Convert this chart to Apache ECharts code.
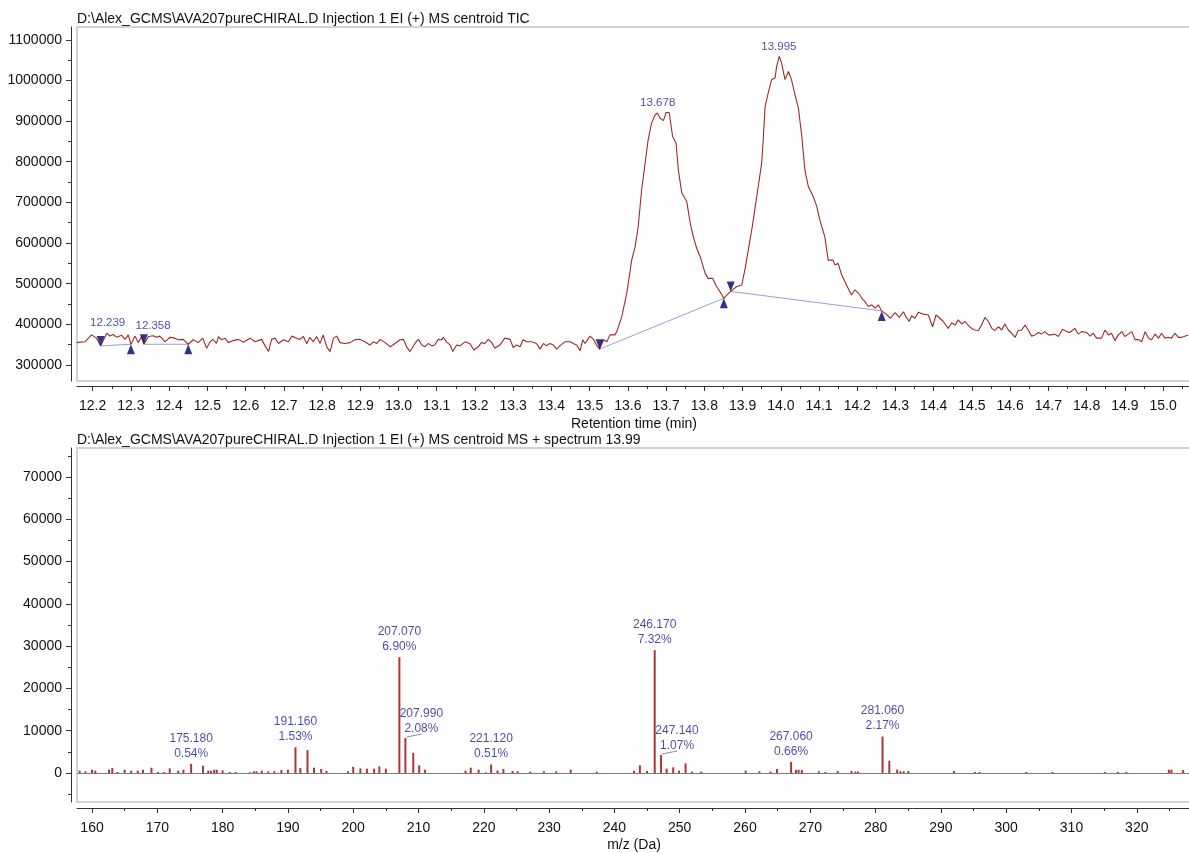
<!DOCTYPE html>
<html>
<head>
<meta charset="utf-8">
<script src="https://cdn.jsdelivr.net/npm/echarts@6/dist/echarts.min.js"></script>
<style>
  html, body { margin: 0; padding: 0; background: #ffffff; overflow: hidden; }
  /* the drawing surface is a little wider than the page so the plot frames run off its right edge */
  #chart { width: 1200px; height: 853px; }
</style>
</head>
<body>
<div id="chart"></div>
<script>
// ---------- titles ----------
const TIC_TITLE = 'D:\\Alex_GCMS\\AVA207pureCHIRAL.D Injection 1 EI (+) MS centroid TIC';
const MS_TITLE = 'D:\\Alex_GCMS\\AVA207pureCHIRAL.D Injection 1 EI (+) MS centroid MS + spectrum 13.99';
const TIC_X_NAME = 'Retention time (min)';
const MS_X_NAME = 'm/z (Da)';

// ---------- total ion chromatogram ----------
const TIC_TIME = [
  12.158, 12.180, 12.197, 12.210, 12.221, 12.237, 12.245, 12.254, 12.263, 12.276,
  12.285, 12.293, 12.300, 12.311, 12.319, 12.328, 12.334, 12.346, 12.359, 12.367,
  12.376, 12.389, 12.402, 12.415, 12.424, 12.437, 12.450, 12.463, 12.476, 12.488,
  12.498, 12.507, 12.514, 12.524, 12.529, 12.537, 12.546, 12.555, 12.568, 12.581,
  12.594, 12.612, 12.625, 12.642, 12.651, 12.660, 12.668, 12.677, 12.686, 12.699,
  12.712, 12.721, 12.734, 12.742, 12.751, 12.760, 12.768, 12.777, 12.786, 12.795,
  12.803, 12.812, 12.821, 12.830, 12.838, 12.847, 12.860, 12.873, 12.886, 12.899,
  12.912, 12.925, 12.934, 12.943, 12.952, 12.965, 12.978, 12.991, 13.004, 13.013,
  13.021, 13.030, 13.043, 13.052, 13.061, 13.069, 13.078, 13.087, 13.095, 13.104,
  13.113, 13.117, 13.126, 13.135, 13.142, 13.152, 13.161, 13.174, 13.187, 13.197,
  13.209, 13.217, 13.226, 13.235, 13.244, 13.252, 13.265, 13.278, 13.292, 13.300,
  13.309, 13.318, 13.326, 13.335, 13.348, 13.361, 13.370, 13.379, 13.387, 13.396,
  13.405, 13.414, 13.422, 13.435, 13.449, 13.457, 13.466, 13.475, 13.482, 13.488,
  13.501, 13.510, 13.518, 13.526, 13.536, 13.545, 13.553, 13.566, 13.571, 13.584,
  13.597, 13.610, 13.619, 13.627, 13.636, 13.645, 13.653, 13.662, 13.671, 13.677,
  13.684, 13.693, 13.700, 13.708, 13.717, 13.726, 13.732, 13.741, 13.754, 13.763,
  13.771, 13.780, 13.789, 13.802, 13.810, 13.822, 13.832, 13.841, 13.851, 13.863,
  13.871, 13.885, 13.898, 13.906, 13.915, 13.924, 13.932, 13.941, 13.950, 13.954,
  13.959, 13.967, 13.976, 13.985, 13.989, 13.996, 14.002, 14.011, 14.020, 14.028,
  14.037, 14.046, 14.055, 14.063, 14.072, 14.085, 14.094, 14.102, 14.115, 14.124,
  14.136, 14.142, 14.150, 14.159, 14.168, 14.176, 14.185, 14.194, 14.203, 14.212,
  14.220, 14.229, 14.238, 14.247, 14.255, 14.264, 14.273, 14.287, 14.299, 14.310,
  14.321, 14.327, 14.336, 14.342, 14.351, 14.360, 14.373, 14.386, 14.397, 14.406,
  14.416, 14.425, 14.438, 14.447, 14.456, 14.464, 14.473, 14.482, 14.490, 14.499,
  14.508, 14.517, 14.525, 14.534, 14.543, 14.552, 14.560, 14.569, 14.578, 14.586,
  14.595, 14.604, 14.613, 14.621, 14.630, 14.639, 14.647, 14.656, 14.665, 14.674,
  14.682, 14.691, 14.700, 14.708, 14.717, 14.726, 14.737, 14.748, 14.756, 14.769,
  14.778, 14.787, 14.800, 14.809, 14.817, 14.826, 14.839, 14.848, 14.857, 14.865,
  14.874, 14.883, 14.892, 14.900, 14.909, 14.918, 14.927, 14.935, 14.944, 14.953,
  14.962, 14.970, 14.979, 14.988, 14.996, 15.005, 15.014, 15.022, 15.031, 15.040,
  15.049, 15.066
];
const TIC_INTENSITY = [
  355000, 357000, 374000, 366000, 347000, 378000, 371000, 375000, 368000, 373000,
  363000, 374000, 351000, 371000, 355000, 370000, 351000, 370000, 372000, 368000,
  371000, 357000, 368000, 366000, 362000, 363000, 351000, 362000, 355000, 366000,
  341000, 357000, 363000, 353000, 370000, 362000, 366000, 355000, 360000, 363000,
  356000, 366000, 357000, 363000, 347000, 333000, 363000, 366000, 353000, 362000,
  357000, 371000, 366000, 363000, 370000, 352000, 368000, 357000, 370000, 353000,
  374000, 345000, 333000, 366000, 371000, 355000, 353000, 355000, 362000, 363000,
  357000, 349000, 357000, 353000, 363000, 355000, 345000, 353000, 362000, 363000,
  345000, 333000, 353000, 363000, 349000, 345000, 353000, 347000, 349000, 363000,
  362000, 368000, 357000, 349000, 333000, 349000, 347000, 357000, 352000, 337000,
  345000, 355000, 353000, 363000, 355000, 341000, 349000, 366000, 363000, 343000,
  349000, 345000, 362000, 357000, 357000, 353000, 339000, 353000, 347000, 353000,
  349000, 339000, 347000, 357000, 357000, 353000, 349000, 335000, 362000, 353000,
  371000, 363000, 349000, 339000, 362000, 357000, 374000, 374000, 382000, 419000,
  476000, 558000, 591000, 640000, 731000, 796000, 854000, 895000, 915000, 920000,
  907000, 901000, 921000, 921000, 862000, 846000, 780000, 723000, 702000, 649000,
  616000, 587000, 567000, 526000, 513000, 513000, 493000, 480000, 464000, 476000,
  483000, 493000, 497000, 534000, 583000, 632000, 682000, 739000, 797000, 854000,
  936000, 969000, 1002000, 1006000, 1034000, 1059000, 1043000, 1002000, 1022000, 1002000,
  965000, 932000, 862000, 780000, 739000, 714000, 690000, 657000, 616000, 558000,
  558000, 546000, 550000, 522000, 505000, 489000, 472000, 485000, 477000, 464000,
  456000, 444000, 448000, 440000, 448000, 433000, 427000, 415000, 429000, 417000,
  431000, 419000, 407000, 421000, 415000, 430000, 425000, 423000, 394000, 423000,
  415000, 407000, 390000, 404000, 398000, 411000, 401000, 407000, 398000, 390000,
  386000, 385000, 398000, 417000, 407000, 390000, 385000, 394000, 386000, 401000,
  386000, 378000, 368000, 385000, 386000, 398000, 386000, 371000, 374000, 380000,
  376000, 382000, 374000, 374000, 376000, 370000, 388000, 382000, 380000, 390000,
  376000, 382000, 380000, 371000, 378000, 366000, 366000, 386000, 374000, 378000,
  360000, 374000, 382000, 370000, 376000, 382000, 362000, 363000, 357000, 382000,
  366000, 362000, 376000, 366000, 378000, 366000, 368000, 366000, 378000, 368000,
  368000, 374000
];

// integrated peaks: apex time, apex intensity, baseline start / end
const PEAK_APEX_TIME = [12.239, 12.358, 13.678, 13.995];
const PEAK_APEX_INTENSITY = [378000, 372000, 920000, 1059000];
const PEAK_START_TIME = [12.221, 12.334, 13.526, 13.869];
const PEAK_START_LEVEL = [347000, 351000, 339000, 481000];
const PEAK_END_TIME = [12.300, 12.450, 13.851, 14.264];
const PEAK_END_LEVEL = [351000, 351000, 464000, 433000];

// axis ticks of the chromatogram
const TIC_TIME_TICKS = [12.2, 12.3, 12.4, 12.5, 12.6, 12.7, 12.8, 12.9, 13.0, 13.1, 13.2, 13.3, 13.4, 13.5,
  13.6, 13.7, 13.8, 13.9, 14.0, 14.1, 14.2, 14.3, 14.4, 14.5, 14.6, 14.7, 14.8, 14.9, 15.0];
const TIC_INTENSITY_TICKS = [300000, 400000, 500000, 600000, 700000, 800000, 900000, 1000000, 1100000];

// ---------- mass spectrum at 13.99 min ----------
const BASE_PEAK_INTENSITY = 397000;   // intensity of the 100 % peak
const LABELED_MZ = [175.180, 191.160, 207.070, 207.990, 221.120, 246.170, 247.140, 267.060, 281.060];
const LABELED_PERCENT = [0.54, 1.53, 6.90, 2.08, 0.51, 7.32, 1.07, 0.66, 2.17];
const LABEL_SHIFTED = [false, false, false, true, false, false, true, false, false];
const MINOR_MZ = [
  158.1, 159.0, 160.0, 160.5, 162.6, 163.1, 163.9, 165.0, 166.0, 167.0,
  167.8, 169.1, 170.1, 171.0, 171.9, 173.2, 174.0, 177.0, 177.8, 178.2,
  178.7, 179.1, 180.0, 181.1, 182.0, 184.2, 184.8, 185.2, 186.0, 187.0,
  187.9, 189.0, 190.0, 191.9, 193.0, 194.0, 195.1, 195.9, 199.2, 200.0,
  201.1, 202.1, 203.2, 204.0, 205.0, 209.2, 210.1, 211.0, 217.2, 218.0,
  219.2, 220.3, 222.1, 223.0, 224.4, 225.2, 227.1, 229.2, 231.1, 233.3,
  237.3, 243.0, 243.9, 245.0, 248.0, 249.0, 249.9, 250.9, 251.9, 253.3,
  260.1, 262.2, 263.9, 264.9, 267.8, 268.2, 268.7, 271.3, 272.3, 274.2,
  276.3, 276.9, 277.3, 282.1, 283.3, 283.8, 284.3, 285.0, 292.0, 295.2,
  295.9, 303.1, 307.1, 315.1, 317.1, 318.4, 324.9, 325.3, 327.1
];
const MINOR_INTENSITY = [
  550, 390, 780, 550, 780, 1170, 230, 780, 550, 550,
  780, 1250, 230, 230, 1090, 550, 780, 1720, 550, 550,
  780, 780, 620, 230, 230, 160, 390, 390, 550, 390,
  390, 700, 780, 1170, 5390, 1250, 940, 470, 390, 1480,
  1090, 1020, 1020, 1560, 1020, 4760, 1800, 780, 550, 1250,
  780, 160, 620, 940, 470, 390, 310, 390, 390, 780,
  310, 550, 1820, 470, 1030, 1340, 550, 2290, 320, 320,
  550, 400, 320, 950, 710, 790, 710, 400, 240, 470,
  470, 320, 320, 2920, 790, 400, 400, 470, 470, 240,
  240, 240, 240, 240, 240, 240, 790, 790, 710
];
const MZ_TICKS = [160, 170, 180, 190, 200, 210, 220, 230, 240, 250, 260, 270, 280, 290, 300, 310, 320];
const MS_INTENSITY_TICKS = [0, 10000, 20000, 30000, 40000, 50000, 60000, 70000];

// ---------- styling ----------
const FONT = 'Liberation Sans';
const TRACE_COLOR = '#9e2a2a';
const STICK_COLOR = '#ad3535';
const LABEL_BLUE = '#1b1b90';
const MARKER_NAVY = '#000066';
const BASELINE_COLOR = '#9c9cde';
const LEADER_COLOR = '#8a8ac4';
const AXIS_COLOR = '#333333';
const TEXT_COLOR = '#111111';

function midpoints(ticks, lo, hi) {
  const step = ticks[1] - ticks[0];
  const out = [];
  for (let i = -1; i < ticks.length; i++) {
    const v = +(ticks[0] + (i + 0.5) * step).toFixed(6);
    if (v > lo && v < hi) out.push(v);
  }
  return out;
}

const TIC_X_MIN = 12.159, TIC_X_MAX = 15.073;
const TIC_Y_MIN = 260600, TIC_Y_MAX = 1131400;
const MS_X_MIN = 157.70, MS_X_MAX = 328.30;
const MS_Y_MIN = -6860, MS_Y_MAX = 76850;

const ticData = TIC_TIME.map((t, i) => [t, TIC_INTENSITY[i]]);
const stickData = MINOR_MZ.map((m, i) => [m, MINOR_INTENSITY[i]])
  .concat(LABELED_MZ.map((m, i) => [m, LABELED_PERCENT[i] / 100 * BASE_PEAK_INTENSITY]));
stickData.sort((a, b) => a[0] - b[0]);

const labelPlain = [], labelShifted = [];
LABELED_MZ.forEach((m, i) => {
  const item = { value: [m, LABELED_PERCENT[i] / 100 * BASE_PEAK_INTENSITY], pct: LABELED_PERCENT[i] };
  (LABEL_SHIFTED[i] ? labelShifted : labelPlain).push(item);
});

function valueAxis(extra) {
  return Object.assign({
    type: 'value',
    axisLine: { show: true, onZero: false, lineStyle: { color: AXIS_COLOR, width: 1 } },
    splitLine: { show: false },
    axisLabel: { color: TEXT_COLOR, fontFamily: FONT, fontSize: 14 },
    nameTextStyle: { color: TEXT_COLOR, fontFamily: FONT, fontSize: 14 }
  }, extra);
}
function minorAxis(extra, values) {
  return Object.assign({
    type: 'value',
    axisLine: { show: false, onZero: false },
    splitLine: { show: false },
    axisLabel: { show: false },
    axisTick: { show: true, length: 3, customValues: values, lineStyle: { color: AXIS_COLOR } }
  }, extra);
}

const chart = echarts.init(document.getElementById('chart'), null, { renderer: 'canvas' });

const gridFrame = { show: true, borderColor: '#d2d2d2', borderWidth: 2, backgroundColor: '#ffffff' };
const tickLabel = { color: TEXT_COLOR, fontFamily: FONT, fontSize: 14 };

const option = {
  animation: false,
  backgroundColor: '#ffffff',
  title: [
    { text: TIC_TITLE, left: 77, top: 12, padding: 0,
      textStyle: { fontFamily: FONT, fontSize: 14, fontWeight: 'normal', color: TEXT_COLOR } },
    { text: MS_TITLE, left: 77, top: 433, padding: 0,
      textStyle: { fontFamily: FONT, fontSize: 14, fontWeight: 'normal', color: TEXT_COLOR } }
  ],
  grid: [
    Object.assign({ left: 77, top: 27, width: 1114, height: 354 }, gridFrame),
    Object.assign({ left: 77, top: 448, width: 1114, height: 354 }, gridFrame)
  ],
  xAxis: [
    valueAxis({
      gridIndex: 0, position: 'bottom', offset: 5, min: TIC_X_MIN, max: TIC_X_MAX,
      axisTick: { show: true, length: 5, customValues: TIC_TIME_TICKS, lineStyle: { color: AXIS_COLOR } },
      axisLabel: Object.assign({ margin: 13, customValues: TIC_TIME_TICKS, formatter: v => v.toFixed(1) }, tickLabel),
      name: TIC_X_NAME, nameLocation: 'middle', nameGap: 31
    }),
    minorAxis({ gridIndex: 0, position: 'bottom', offset: 5, min: TIC_X_MIN, max: TIC_X_MAX },
      midpoints(TIC_TIME_TICKS, TIC_X_MIN, TIC_X_MAX)),
    valueAxis({
      gridIndex: 1, position: 'bottom', offset: 6, min: MS_X_MIN, max: MS_X_MAX,
      axisTick: { show: true, length: 5, customValues: MZ_TICKS, lineStyle: { color: AXIS_COLOR } },
      axisLabel: Object.assign({ margin: 13, customValues: MZ_TICKS, formatter: v => String(v) }, tickLabel),
      name: MS_X_NAME, nameLocation: 'middle', nameGap: 30
    }),
    minorAxis({ gridIndex: 1, position: 'bottom', offset: 6, min: MS_X_MIN, max: MS_X_MAX },
      midpoints(MZ_TICKS, MS_X_MIN, MS_X_MAX))
  ],
  yAxis: [
    valueAxis({
      gridIndex: 0, position: 'left', offset: 6, min: TIC_Y_MIN, max: TIC_Y_MAX,
      axisTick: { show: true, length: 5, customValues: TIC_INTENSITY_TICKS, lineStyle: { color: AXIS_COLOR } },
      axisLabel: Object.assign({ margin: 9, customValues: TIC_INTENSITY_TICKS, formatter: v => String(v) }, tickLabel)
    }),
    minorAxis({ gridIndex: 0, position: 'left', offset: 6, min: TIC_Y_MIN, max: TIC_Y_MAX },
      midpoints(TIC_INTENSITY_TICKS, TIC_Y_MIN, TIC_Y_MAX)),
    valueAxis({
      gridIndex: 1, position: 'left', offset: 6, min: MS_Y_MIN, max: MS_Y_MAX,
      axisTick: { show: true, length: 5, customValues: MS_INTENSITY_TICKS, lineStyle: { color: AXIS_COLOR } },
      axisLabel: Object.assign({ margin: 9, customValues: MS_INTENSITY_TICKS, formatter: v => String(v) }, tickLabel)
    }),
    minorAxis({ gridIndex: 1, position: 'left', offset: 6, min: MS_Y_MIN, max: MS_Y_MAX },
      midpoints(MS_INTENSITY_TICKS, MS_Y_MIN, MS_Y_MAX))
  ],
  series: []
};

// chromatogram trace
option.series.push({
  type: 'line', xAxisIndex: 0, yAxisIndex: 0, data: ticData,
  showSymbol: false, symbol: 'none', silent: true,
  lineStyle: { color: TRACE_COLOR, width: 1.1 }, z: 3
});

// integration baselines
PEAK_START_TIME.forEach((t, i) => {
  option.series.push({
    type: 'line', xAxisIndex: 0, yAxisIndex: 0, silent: true, symbol: 'none',
    data: [[t, PEAK_START_LEVEL[i]], [PEAK_END_TIME[i], PEAK_END_LEVEL[i]]],
    lineStyle: { color: BASELINE_COLOR, width: 1 }, z: 2
  });
});

// peak start (down) and end (up) markers
option.series.push({
  type: 'scatter', xAxisIndex: 0, yAxisIndex: 0, silent: true,
  symbol: 'triangle', symbolRotate: 180, symbolSize: [8, 10], symbolOffset: [0, -5],
  itemStyle: { color: MARKER_NAVY },
  data: PEAK_START_TIME.map((t, i) => [t, PEAK_START_LEVEL[i]]), z: 4
});
option.series.push({
  type: 'scatter', xAxisIndex: 0, yAxisIndex: 0, silent: true,
  symbol: 'triangle', symbolSize: [8, 10], symbolOffset: [0, 5],
  itemStyle: { color: MARKER_NAVY },
  data: PEAK_END_TIME.map((t, i) => [t, PEAK_END_LEVEL[i]]), z: 4
});

// apex retention-time labels
option.series.push({
  type: 'scatter', xAxisIndex: 0, yAxisIndex: 0, silent: true, symbolSize: 0,
  data: PEAK_APEX_TIME.map((t, i) => [t, PEAK_APEX_INTENSITY[i]]),
  label: { show: true, position: 'top', distance: 4, color: LABEL_BLUE,
    fontFamily: FONT, fontSize: 11.5, formatter: p => p.value[0].toFixed(3) },
  z: 5
});

// mass spectrum sticks and the zero line
option.series.push({
  type: 'bar', xAxisIndex: 2, yAxisIndex: 2, data: stickData, barWidth: 2, silent: true,
  itemStyle: { color: STICK_COLOR },
  markLine: { silent: true, symbol: 'none', label: { show: false },
    lineStyle: { color: '#7c7c7c', width: 1, type: 'solid' }, data: [{ yAxis: 0 }] },
  z: 3
});

const msLabel = {
  show: true, position: 'top', distance: 3, color: LABEL_BLUE, fontFamily: FONT,
  fontSize: 12, lineHeight: 15, align: 'center',
  formatter: p => p.value[0].toFixed(3) + '\n' + p.data.pct.toFixed(2) + '%'
};
option.series.push({
  type: 'scatter', xAxisIndex: 2, yAxisIndex: 2, silent: true, symbolSize: 0,
  data: labelPlain, label: msLabel, z: 5
});
option.series.push({
  type: 'scatter', xAxisIndex: 2, yAxisIndex: 2, silent: true, symbolSize: 0,
  data: labelShifted, label: msLabel,
  labelLayout: { dx: 16, dy: 1 },
  z: 5
});

// short leader lines from a stick top to its shifted label
option.series.push({
  type: 'custom', xAxisIndex: 2, yAxisIndex: 2, silent: true, z: 4,
  data: labelShifted.map(d => d.value),
  renderItem: (params, api) => {
    const p = api.coord([api.value(0), api.value(1)]);
    return {
      type: 'line',
      shape: { x1: p[0] + 1, y1: p[1] - 1, x2: p[0] + 16, y2: p[1] - 4 },
      style: { stroke: LEADER_COLOR, lineWidth: 1 }
    };
  }
});

chart.setOption(option);
</script>
</body>
</html>
